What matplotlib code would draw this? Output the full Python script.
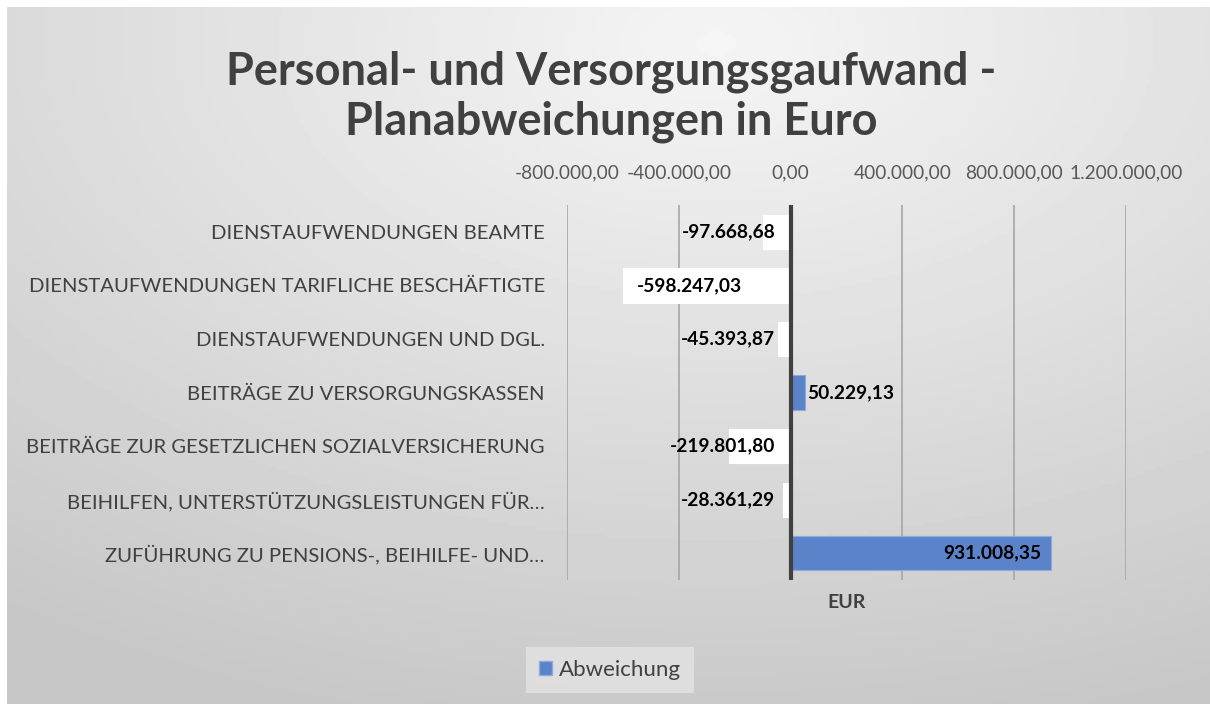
import numpy as np
import matplotlib.pyplot as plt
from matplotlib.patches import Patch

categories = [
    "DIENSTAUFWENDUNGEN BEAMTE",
    "DIENSTAUFWENDUNGEN TARIFLICHE BESCHÄFTIGTE",
    "DIENSTAUFWENDUNGEN UND DGL.",
    "BEITRÄGE ZU VERSORGUNGSKASSEN",
    "BEITRÄGE ZUR GESETZLICHEN SOZIALVERSICHERUNG",
    "BEIHILFEN, UNTERSTÜTZUNGSLEISTUNGEN FÜR…",
    "ZUFÜHRUNG ZU PENSIONS-, BEIHILFE- UND…",
]
abweichung = [-97668.68, -598247.03, -45393.87, 50229.13, -219801.80, -28361.29, 931008.35]
xticks = [-800000, -400000, 0, 400000, 800000, 1200000]


def de_fmt(v):
    s = f"{v:,.2f}"
    return s.replace(",", "X").replace(".", ",").replace("X", ".")


plt.rcParams["font.family"] = ["Lato", "DejaVu Sans"]

fig = plt.figure(figsize=(12.1, 7.04), dpi=100)
fig.patch.set_facecolor("white")

# gradient background of the chart area
bg = fig.add_axes([7 / 1210, 0, 1203 / 1210, 697 / 704])
yy, xx = np.mgrid[0:200, 0:340]
d = np.sqrt(((xx - 200) / 340) ** 2 + ((yy - 10) / 200) ** 2)
shade = 0.96 - 0.18 * np.clip(d / 1.0, 0, 1)
bg.imshow(shade, cmap="gray", vmin=0, vmax=1, aspect="auto", extent=[0, 1, 0, 1])
bg.set_axis_off()

ax = fig.add_axes([567 / 1210, 1 - 580 / 704, 559 / 1210, 375 / 704])
ax.patch.set_alpha(0)

y = np.arange(len(categories))
colors = ["#5b83c9" if v > 0 else "white" for v in abweichung]
edges = ["#8fa9da" if v > 0 else "white" for v in abweichung]
ax.barh(y, abweichung, height=0.64, color=colors, edgecolor=edges, linewidth=0.8, zorder=3)

ax.set_xlim(-800000, 1200000)
ax.set_ylim(len(categories) - 0.5, -0.5)
ax.set_yticks(y)
ax.set_yticklabels(categories, fontsize=14.6, color="#404040")
ax.tick_params(axis="y", length=0, pad=16)
ax.xaxis.tick_top()
ax.set_xticks(xticks)
ax.set_xticklabels([de_fmt(t) for t in xticks], fontsize=13.8, color="#595959")
ax.tick_params(axis="x", length=0, pad=17)
ax.grid(axis="x", color="#a6a6a6", linewidth=1.2, zorder=0)
ax.axvline(0, color="#404040", linewidth=3, zorder=4)
for s in ax.spines.values():
    s.set_visible(False)

ax.set_xlabel("EUR", fontsize=14, fontweight="bold", color="#404040", labelpad=10)

# data labels
for yi, v in zip(y, abweichung):
    lab = de_fmt(v)
    kw = dict(textcoords="offset points", va="center", fontsize=13.8, fontweight="bold", zorder=5)
    if v < -400000:
        ax.annotate(lab, (v, yi), xytext=(10, 0), ha="left", **kw)
    elif v < 0:
        ax.annotate(lab, (0, yi), xytext=(-11, 0), ha="right", **kw)
    elif v > 400000:
        ax.annotate(lab, (v, yi), xytext=(-7, 0), ha="right", **kw)
    else:
        ax.annotate(lab, (v, yi), xytext=(2, 0), ha="left", **kw)

fig.text(0.505, 1 - 72 / 704, "Personal- und Versorgungsgaufwand -", ha="center", va="center",
         fontsize=32.5, fontweight="bold", color="#404040")
fig.text(0.505, 1 - 122 / 704, "Planabweichungen in Euro", ha="center", va="center",
         fontsize=32.5, fontweight="bold", color="#404040")

leg = fig.legend(handles=[Patch(facecolor="#5b83c9", edgecolor="#8fa9da", label="Abweichung")],
                 loc="center", bbox_to_anchor=(610 / 1210, 1 - 670 / 704), fontsize=16,
                 frameon=True, handlelength=0.6, handleheight=0.6, handletextpad=0.3,
                 borderpad=0.6, fancybox=False, labelcolor="#404040")
leg.get_frame().set_facecolor("#e3e3e3")
leg.get_frame().set_edgecolor("none")

fig.savefig("out.png", dpi=100)
